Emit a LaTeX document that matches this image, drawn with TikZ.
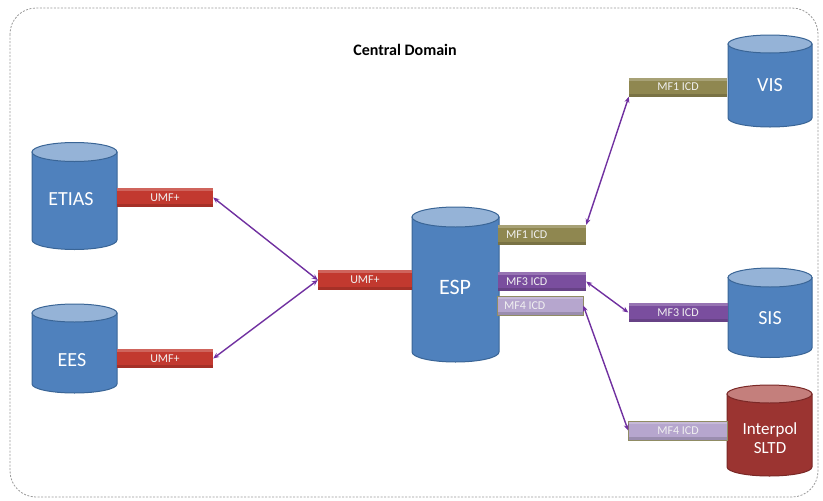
\documentclass[tikz,border=0pt]{standalone}
\usepackage{fontspec}
\setmainfont{Carlito}
\usetikzlibrary{arrows.meta}
\definecolor{cylblue}{HTML}{4F81BD}
\definecolor{cylbluetop}{HTML}{95B3D7}
\definecolor{cylblueline}{HTML}{3A6596}
\definecolor{cylred}{HTML}{9B3431}
\definecolor{cylredtop}{HTML}{C47F7C}
\definecolor{cylredline}{HTML}{7A2826}
\definecolor{umfred}{HTML}{C2392F}
\definecolor{mfolive}{HTML}{8F8750}
\definecolor{mfpurple}{HTML}{7A4E9E}
\definecolor{mflav}{HTML}{B6A6CE}
\definecolor{linkpurple}{HTML}{7030A0}
\tikzset{
  barbox/.style={rectangle, minimum width=#1, minimum height=19pt, inner sep=0pt,
    text=white!88!gray, font=\fontsize{12}{14}\selectfont,
    path picture={\fill[white,opacity=0.22] (path picture bounding box.north west) rectangle ([yshift=-3pt]path picture bounding box.north east);
                  \fill[black,opacity=0.15] ([yshift=3pt]path picture bounding box.south west) rectangle (path picture bounding box.south east);}},
  umf/.style={barbox=#1, fill=umfred},
  mfone/.style={barbox=#1, fill=mfolive},
  mfthree/.style={barbox=#1, fill=mfpurple},
  mffour/.style={barbox=#1, fill=mflav, draw=gray!70!olive, line width=0.6pt},
  cyltext/.style={text=white, font=\fontsize{20}{24}\selectfont, align=center},
  link/.style={draw=linkpurple, line width=1.4pt, {Stealth[length=6pt,width=5pt]}-{Stealth[length=6pt,width=5pt]}},
}
% \dbcyl{xl}{xr}{ytop}{ybottom}{ry}{body}{top}{line}
\newcommand{\dbcyl}[8]{%
  \pgfmathsetmacro{\cxm}{(#1+#2)/2}%
  \pgfmathsetmacro{\rxm}{(#2-#1)/2}%
  \filldraw[fill=#6, draw=#8, line width=1pt] (#1,#3) -- (#1,#4) arc[start angle=180, end angle=360, x radius=\rxm pt, y radius=#5pt] -- (#2,#3) -- cycle;
  \filldraw[fill=#7, draw=#8, line width=1pt] (\cxm,#3) ellipse[x radius=\rxm pt, y radius=#5pt];
}
\newcommand{\leftlbl}[1]{\makebox[72pt][l]{#1}}
\begin{document}
\begin{tikzpicture}[x=1pt,y=-1pt]
\useasboundingbox (0,0) rectangle (823,501);
\draw[gray!80, line width=0.8pt, dash pattern=on 2pt off 1.5pt, rounded corners=26pt] (10,8) rectangle (818,497);
\node[font=\bfseries\fontsize{16}{19}\selectfont] (title) at (405,50) {Central Domain};

% cylinders
\dbcyl{32}{117}{152}{240}{9.5}{cylblue}{cylbluetop}{cylblueline}
\dbcyl{32}{117}{313}{384}{9}{cylblue}{cylbluetop}{cylblueline}
\dbcyl{412}{499}{217}{352}{10}{cylblue}{cylbluetop}{cylblueline}
\dbcyl{728}{812}{44}{118}{9}{cylblue}{cylbluetop}{cylblueline}
\dbcyl{728}{812}{277.5}{348}{9.5}{cylblue}{cylbluetop}{cylblueline}
\dbcyl{727}{812}{394}{467}{9}{cylred}{cylredtop}{cylredline}

\node[cyltext] (etias) at (71,199) {ETIAS};
\node[cyltext] (ees) at (72,360) {EES};
\node[cyltext, font=\fontsize{22}{26}\selectfont] (esp) at (455,287) {ESP};
\node[cyltext] (vis) at (770,85) {VIS};
\node[cyltext] (sis) at (770,318) {SIS};
\node[cyltext, font=\fontsize{17}{21}\selectfont, align=center] (interpol) at (770,438) {Interpol\\[-2pt]SLTD};

% bars
\node[umf=96pt] (barE) at (165,197.5) {UMF+};
\node[umf=96pt] (barS) at (165,358.5) {UMF+};
\node[umf=94pt, minimum height=20pt] (barU) at (365,280) {UMF+};
\node[mfone=88pt, minimum height=20pt] (barM1) at (542,235) {\leftlbl{MF1 ICD}};
\node[mfthree=88pt] (barM3) at (542,281.5) {\leftlbl{MF3 ICD}};
\node[mffour=86pt] (barM4) at (540,305.5) {\leftlbl{MF4 ICD}};
\node[mfone=98pt] (barV) at (678,87) {MF1 ICD};
\node[mfthree=99pt] (barSIS) at (678,312.5) {MF3 ICD};
\node[mffour=99pt] (barI) at (678,430.5) {MF4 ICD};

% links
\draw[link] (barE.east) -- (barU.west);
\draw[link] (barS.east) -- (barU.west);
\draw[link] (barM1.north east) -- (barV.south west);
\draw[link] (barM3.east) -- (barSIS.west);
\draw[link] (barM4.east) -- (barI.west);
\end{tikzpicture}
\end{document}
